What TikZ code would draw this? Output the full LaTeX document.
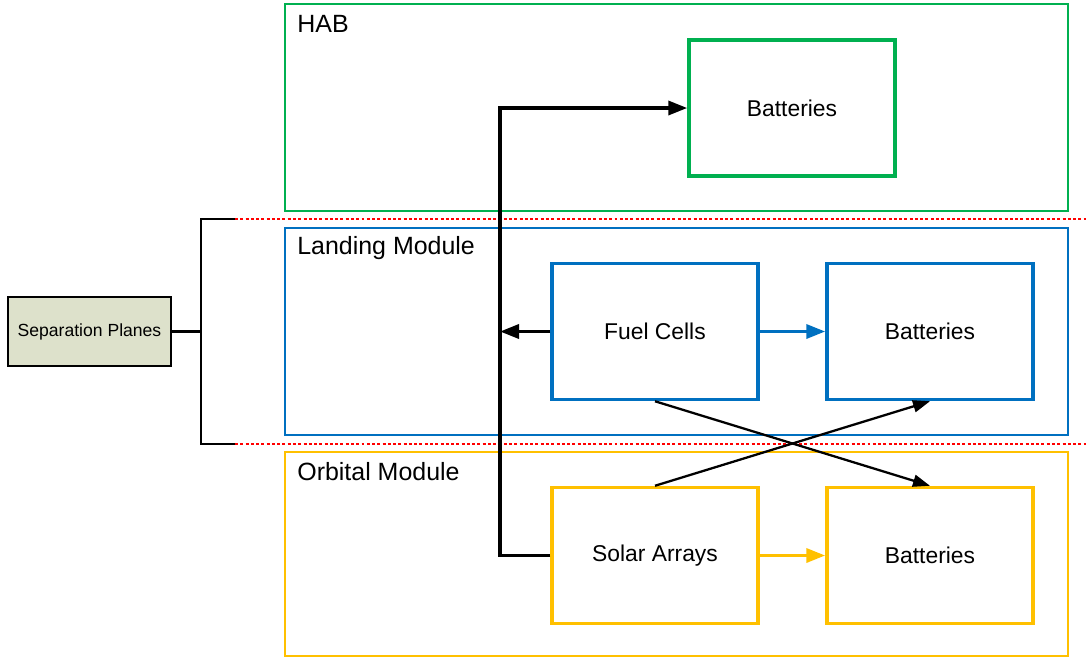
\documentclass[tikz,border=0pt]{standalone}
\usepackage{fontspec}
\setmainfont{Liberation Sans}
\usetikzlibrary{arrows.meta}
\definecolor{habgreen}{RGB}{0,176,80}
\definecolor{lmblue}{RGB}{0,112,192}
\definecolor{omyellow}{RGB}{255,192,0}
\definecolor{sepfill}{RGB}{221,225,203}
\tikzset{
  frame/.style={draw=#1, line width=1.3pt, minimum width=15.66cm, minimum height=4.14cm, inner sep=0pt},
  unit/.style={draw=#1, line width=2pt, minimum width=4.12cm, minimum height=2.72cm, inner sep=0pt, font=\fontsize{13}{15}\selectfont},
  lbl/.style={anchor=west, inner sep=0pt, font=\fontsize{14.2}{16}\selectfont},
  plane/.style={red, line width=1.3pt, dash pattern=on 1.7pt off 1.3pt},
  flow/.style={-{Triangle[length=0.38cm,width=0.28cm]}, line width=2pt},
  cross/.style={-{Triangle[length=0.34cm,width=0.24cm]}, line width=1.3pt}
}
\begin{document}
\begin{tikzpicture}[x=0.02cm, y=-0.02cm]
    \useasboundingbox (0,0) rectangle (1086,657);

    % Moduli
    \node[frame=habgreen] (hab) at (676.5,107.5) {};
    \node[frame=lmblue] (lm) at (676.5,331.5) {};
    \node[frame=omyellow, minimum height=4.08cm] (om) at (676.5,554) {};
    \node[lbl] (hablbl) at (297,24) {HAB};
    \node[lbl] (lmlbl) at (297,248) {Landing Module};
    \node[lbl] (omlbl) at (297,472) {Orbital Module};

    % Piani di separazione
    \node[draw, line width=1.5pt, fill=sepfill, minimum width=3.26cm, minimum height=1.38cm,
          inner sep=0pt, font=\fontsize{10}{12}\selectfont] (sep) at (89.5,331.5) {Separation Planes};
    \coordinate (brk) at (201,331.5);
    \coordinate (planetop) at (235,219);
    \coordinate (planebot) at (235,444);
    \coordinate (planetopend) at (1086,219);
    \coordinate (planebotend) at (1086,444);
    \draw[plane] (planetop) -- (planetopend);
    \draw[plane] (planebot) -- (planebotend);
    \draw[line width=1.5pt] (sep.east) -- (brk);
    \draw[line width=1.5pt] (planetop) -| (brk) |- (planebot);

    % Blocchi
    \node[unit=habgreen] (habbat) at (792,108) {Batteries};
    \node[unit=lmblue] (fc) at (655,331.5) {Fuel Cells};
    \node[unit=lmblue] (lmbat) at (930,331.5) {Batteries};
    \node[unit=omyellow] (sa) at (655,555.5) {Solar Arrays};
    \node[unit=omyellow] (ombat) at (930,555.5) {Batteries};

    % Collegamenti
    \coordinate (bus) at (500,331.5);
    \draw[flow] (sa.west) -| (bus) |- (habbat.west);
    \draw[flow] (fc.west) -- (fc.west -| bus);
    \draw[flow, lmblue] (fc) -- (lmbat);
    \draw[flow, omyellow] (sa) -- (ombat);
    \draw[cross] (fc.south) -- (ombat.north);
    \draw[cross] (sa.north) -- (lmbat.south);
\end{tikzpicture}
\end{document}
